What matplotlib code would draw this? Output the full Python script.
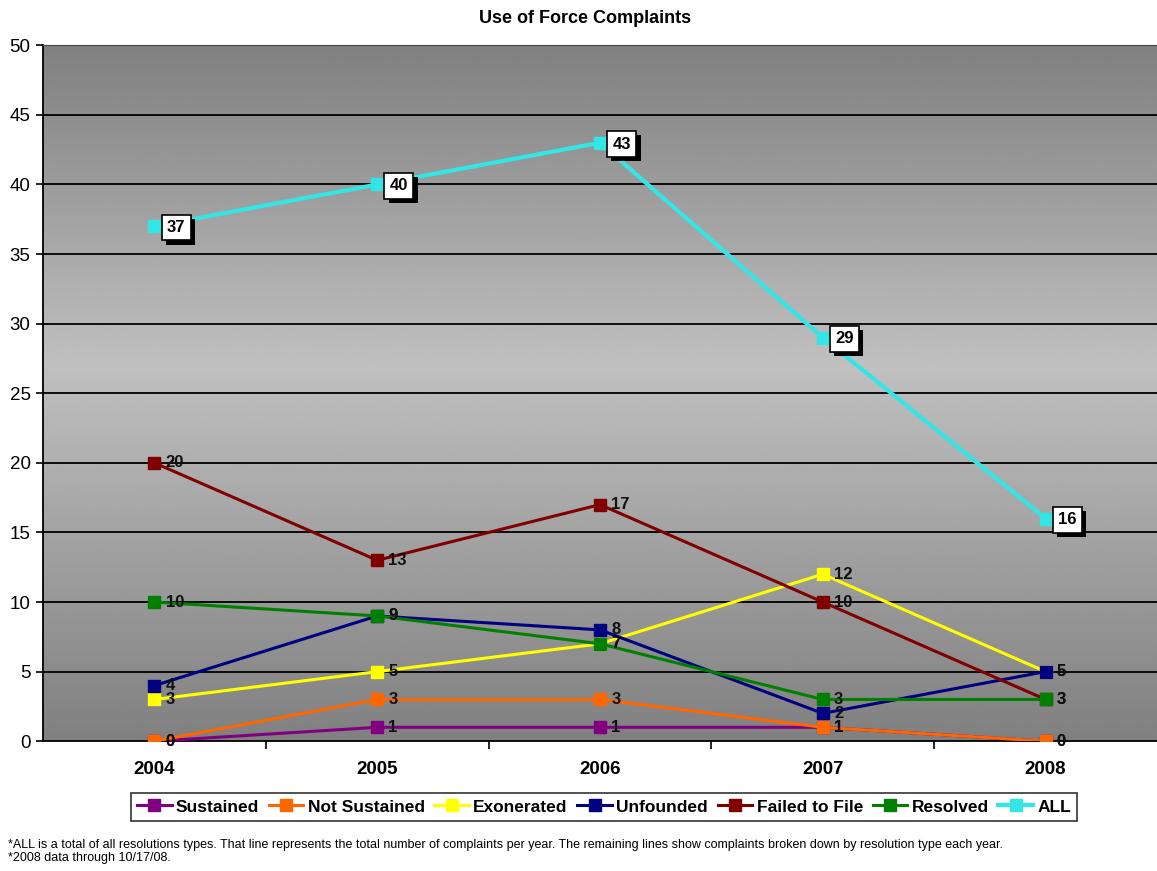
import matplotlib
matplotlib.use("Agg")
import matplotlib.pyplot as plt
import matplotlib.patheffects as pe
import numpy as np

plt.rcParams['font.family'] = ['Liberation Sans', 'DejaVu Sans']

years = ['2004', '2005', '2006', '2007', '2008']
series_names = ['Sustained', 'Not Sustained', 'Exonerated', 'Unfounded',
                'Failed to File', 'Resolved', 'ALL']
sustained = [0, 1, 1, 1, 0]
not_sustained = [0, 3, 3, 1, 0]
exonerated = [3, 5, 7, 12, 5]
unfounded = [4, 9, 8, 2, 5]
failed_to_file = [20, 13, 17, 10, 3]
resolved = [10, 9, 7, 3, 3]
all_complaints = [37, 40, 43, 29, 16]
y_ticks = [0, 5, 10, 15, 20, 25, 30, 35, 40, 45, 50]

colors = ['#800080', '#FF6600', '#FFFF00', '#000080', '#800000', '#008000', '#33E6E6']
values = [sustained, not_sustained, exonerated, unfounded, failed_to_file, resolved, all_complaints]

fig = plt.figure(figsize=(11.57, 8.71), dpi=100)
ax = fig.add_axes([0.0372, 0.149, 0.9628, 0.799])

x = np.arange(len(years))
ax.set_xlim(-0.5, len(years) - 0.5)
ax.set_ylim(0, 50)

# gray gradient background, dark at top and bottom, light near 27
yy = np.linspace(0, 50, 300)
shade = np.where(yy < 27, 128 + 64 * (yy / 27), 192 - 64 * ((yy - 27) / 23)) / 255.0
grad = np.repeat(shade[:, None], 2, axis=1)
ax.imshow(grad, extent=(-0.5, len(years) - 0.5, 0, 50), origin='lower',
          cmap='gray', vmin=0, vmax=1, aspect='auto', zorder=0)

for v in y_ticks[1:-1]:
    ax.axhline(v, color='black', lw=1.3, zorder=1)

for name, vals, c in zip(series_names, values, colors):
    lw = 3.0 if name == 'ALL' else 2.2
    ax.plot(x, vals, color=c, lw=lw, marker='s', markersize=8.5,
            markeredgecolor=c, label=name, zorder=3)

# data labels
for name, vals in zip(series_names[:-1], values[:-1]):
    for xi, v in zip(x, vals):
        ax.annotate(str(v), (xi, v), xytext=(8, 0), textcoords='offset points',
                    va='center', ha='left', fontsize=12, fontweight='bold',
                    color='#111111', zorder=4)

# boxed labels with drop shadow for the total line
for xi, v in zip(x, all_complaints):
    t = ax.annotate(str(v), (xi, v), xytext=(9, -1), textcoords='offset points',
                    va='center', ha='left', fontsize=12, fontweight='bold', color='black',
                    bbox=dict(boxstyle='square,pad=0.32', fc='white', ec='black', lw=1.2),
                    zorder=6)
    t.get_bbox_patch().set_path_effects([
        pe.SimplePatchShadow(offset=(3, -3), shadow_rgbFace='black', alpha=1.0),
        pe.Normal()])

ax.set_yticks(y_ticks)
ax.set_yticklabels([str(t) for t in y_ticks], fontsize=13.5)
ax.set_xticks(x)
ax.set_xticklabels(years, fontsize=13.5, fontweight='bold')
ax.set_xticks(np.arange(0.5, len(years) - 0.5, 1), minor=True)
ax.tick_params(axis='x', which='major', length=0, pad=14)
ax.tick_params(axis='x', which='minor', length=6, width=1.2, direction='out')
ax.tick_params(axis='y', length=5, width=1.2, direction='out', pad=4)

ax.spines['right'].set_visible(False)
ax.spines['left'].set_linewidth(1.3)
ax.spines['bottom'].set_linewidth(1.3)
ax.spines['top'].set_color('#444444')

fig.text(0.506, 0.979, 'Use of Force Complaints', ha='center', va='center',
         fontsize=13, fontweight='bold')

leg = fig.legend(loc='center', bbox_to_anchor=(0.522, 0.0735), ncol=7,
                 frameon=True, fancybox=False, edgecolor='black',
                 handlelength=2.0, handletextpad=0.25, columnspacing=0.55,
                 borderpad=0.35, prop={'weight': 'bold', 'size': 12.5})
leg.get_frame().set_linewidth(1.2)

fig.text(0.007, 0.030, '*ALL is a total of all resolutions types. That line represents the total '
         'number of complaints per year. The remaining lines show complaints broken down by '
         'resolution type each year.', fontsize=9, va='center')
fig.text(0.007, 0.015, '*2008 data through 10/17/08.', fontsize=9, va='center')

fig.savefig('out.png', dpi=100, facecolor='white')
